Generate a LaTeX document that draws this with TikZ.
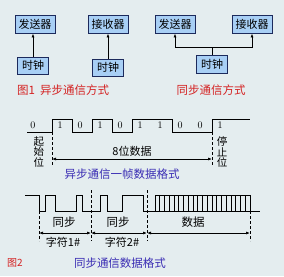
\documentclass[tikz,border=0pt]{standalone}
\usepackage{fontspec}
\usepackage{xcolor}
\usetikzlibrary{arrows.meta}
\newfontfamily\cjk{Noto Sans CJK SC}
\definecolor{bgc}{HTML}{E4EDEF}
\definecolor{boxc}{HTML}{A8CFF5}
\definecolor{edgec}{HTML}{1C2A5C}
\definecolor{redc}{HTML}{D42222}
\definecolor{bluec}{HTML}{3A2DB4}
\tikzset{
  unitbox/.style={draw=edgec,fill=boxc,line width=0.9pt,inner sep=0pt,
    minimum height=18pt,font=\cjk\fontsize{11}{11}\selectfont},
  capred/.style={text=redc,font=\cjk\fontsize{11.5}{12}\selectfont,inner sep=0pt},
  capblue/.style={text=bluec,font=\cjk\fontsize{11.5}{12}\selectfont,inner sep=0pt},
  cjklabel/.style={font=\cjk\fontsize{11}{11}\selectfont,inner sep=0pt},
  bitlabel/.style={font=\fontsize{10}{10}\selectfont,inner sep=0pt},
  wave/.style={line width=0.9pt},
  guide/.style={dashed,dash pattern=on 3pt off 2pt,line width=0.7pt},
  dimline/.style={{Latex[length=4pt,width=3pt]}-{Latex[length=4pt,width=3pt]},line width=0.7pt}
}
\begin{document}
\begin{tikzpicture}[x=1pt,y=-1pt,>={Latex[length=4pt,width=3pt]}]
\useasboundingbox (0,0) rectangle (284,276);
\fill[bgc] (0,0) rectangle (284,276);
% asynchronous
\node[unitbox,minimum width=40pt] (send1) at (35,24) {发送器};
\node[unitbox,minimum width=40pt] (recv1) at (108,24) {接收器};
\node[unitbox,minimum width=31pt,minimum height=17pt] (clk1a) at (33,65.5) {时钟};
\node[unitbox,minimum width=31pt,minimum height=17pt] (clk1b) at (108,67.5) {时钟};
\draw[->,line width=0.9pt] (clk1a.north) -- (clk1a.north |- send1.south);
\draw[->,line width=0.9pt] (clk1b.north) -- (clk1b.north |- recv1.south);
\node[capred,anchor=west] (cap1) at (17,90) {图1\ \ 异步通信方式};
% synchronous
\node[unitbox,minimum width=40pt] (send2) at (175,24) {发送器};
\node[unitbox,minimum width=40pt] (recv2) at (252,24) {接收器};
\node[unitbox,minimum width=31pt] (clk2) at (212,64) {时钟};
\coordinate (fork) at (212,47);
\draw[line width=0.9pt] (clk2.north) -- (fork);
\draw[->,line width=0.9pt] (fork) -| (send2.south);
\draw[->,line width=0.9pt] (fork) -| (recv2.south);
\node[capred] (cap2) at (211,90) {同步通信方式};
% one asynchronous frame
\draw[wave] (27,132) -- (52,132) -- (52,119) -- (72,119) -- (72,132) -- (92,132)
  -- (92,119) -- (112,119) -- (112,132) -- (132,132) -- (132,119) -- (172,119)
  -- (172,132) -- (212,132) -- (212,119) -- (250,119);
\node[bitlabel] (b0) at (33,125) {0};
\foreach \b [count=\i from 0] in {1,0,1,0,1,1,0,0}
  \node[bitlabel] (d\i) at (60+20*\i,125) {\b};
\node[bitlabel] (b9) at (220,125) {1};
\coordinate (fs) at (52,132);
\coordinate (fe) at (212,132);
\draw[guide] (fs) -- ++(0,33) coordinate (fsb);
\draw[guide] (fe) -- ++(0,33) coordinate (feb);
\draw[dimline] ([yshift=6pt]fsb) -- ([yshift=6pt]feb);
\node[cjklabel,align=center,font=\cjk\fontsize{10.5}{10.5}\selectfont] (startbit) at (39,152) {起\\始\\位};
\node[cjklabel,align=center,font=\cjk\fontsize{10.5}{10.5}\selectfont] (stopbit) at (222,152) {停\\止\\位};
\node[cjklabel] (eight) at (132,151) {8位数据};
\node[capblue] (cap3) at (122,174) {异步通信一帧数据格式};
% synchronous data stream
\draw[wave] (25,195) -- (39,195) -- (39,211) -- (45,211) -- (45,195) -- (55,195)
  -- (55,211) -- (76,211) -- (76,195) -- (82,195) -- (82,211) -- (100,211)
  -- (100,195) -- (107,195) -- (107,211) -- (122,211) -- (122,195) -- (143,195)
  -- (143,211) -- (260,211);
\draw[wave] (155,211) -- (155,195) -- (250,195) -- (250,211);
\foreach \k in {1,...,19}
  \draw[line width=0.7pt] (155+4.75*\k,195) -- ++(0,16);
\coordinate (s1) at (39,211);
\coordinate (s2) at (91,190);
\coordinate (s3) at (147,190);
\coordinate (s4) at (250,211);
\draw[guide] (s1) -- (39,241) coordinate (s1b);
\draw[guide] (s2) -- (91,241) coordinate (s2b);
\draw[guide] (s3) -- (147,241) coordinate (s3b);
\draw[guide] (s4) -- (250,241) coordinate (s4b);
\draw[dimline] ([yshift=8pt]s1b) -- ([yshift=8pt]s2b);
\draw[dimline] ([yshift=8pt]s2b) -- ([yshift=8pt]s3b);
\draw[dimline] ([yshift=8pt]s3b) -- ([yshift=8pt]s4b);
\node[cjklabel,font=\cjk\fontsize{11.5}{11.5}\selectfont] (sync1) at (64,222) {同步};
\node[cjklabel,font=\cjk\fontsize{11.5}{11.5}\selectfont] (sync2) at (118,222) {同步};
\node[cjklabel,font=\cjk\fontsize{11.5}{11.5}\selectfont] (data) at (193,222) {数据};
\node[cjklabel] (char1) at (63,242) {字符1\#};
\node[cjklabel] (char2) at (122,242) {字符2\#};
\node[capred,anchor=west,font=\cjk\fontsize{10}{10}\selectfont] (fig2) at (7,263) {图2};
\node[capblue] (cap4) at (120,263) {同步通信数据格式};
\end{tikzpicture}
\end{document}
